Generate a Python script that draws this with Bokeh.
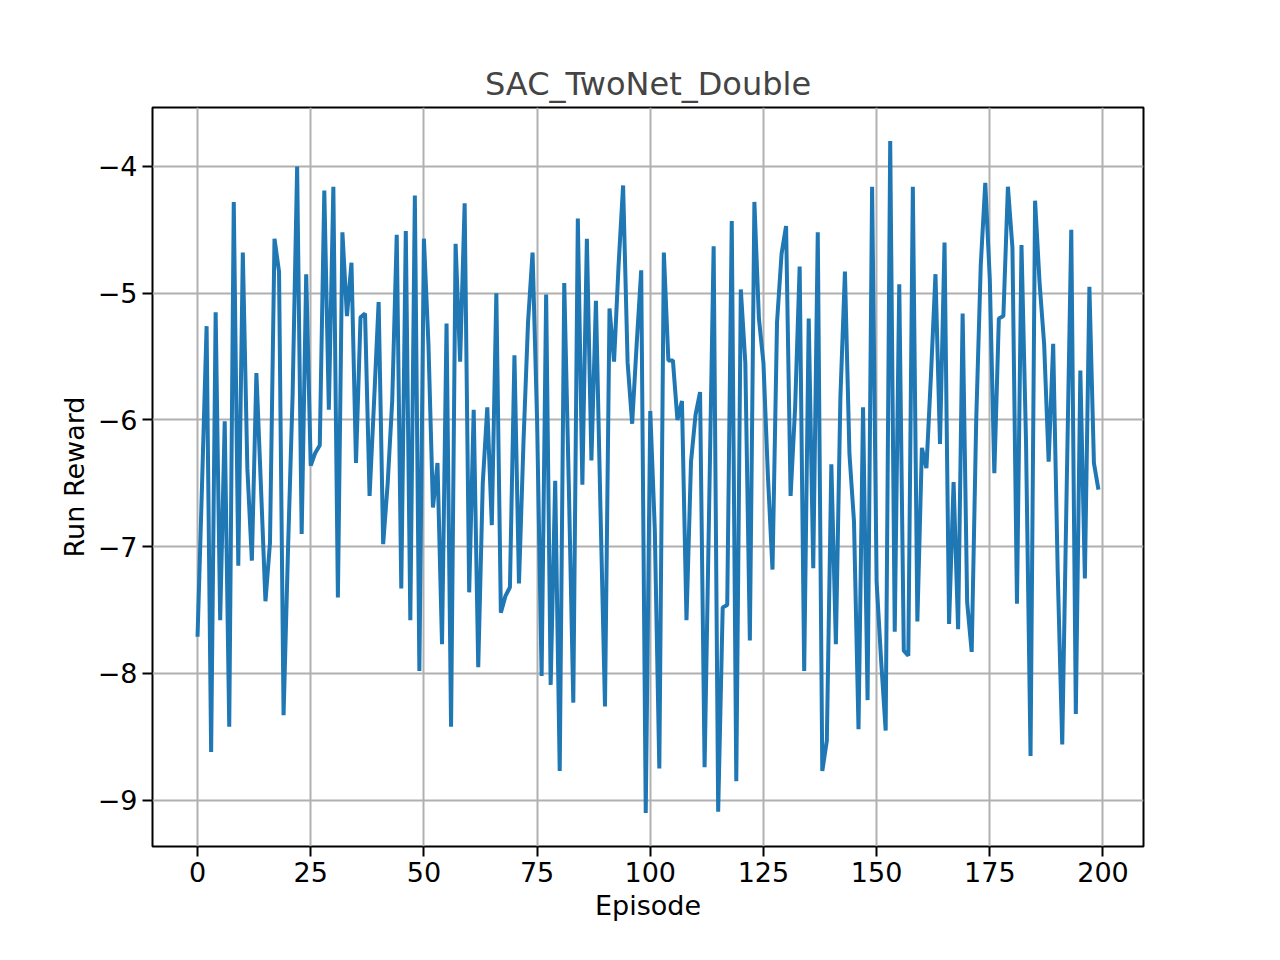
from bokeh.plotting import figure
from bokeh.models import Range1d, FixedTicker
from bokeh.embed import file_html
from bokeh.resources import INLINE

episodes = list(range(200))
rewards = [
    -7.71, -6.5, -5.26, -8.62, -5.15, -7.58, -6.01, -8.42, -4.28, -7.15,
    -4.68, -6.38, -7.11, -5.63, -6.52, -7.43, -6.97, -4.57, -4.83, -8.33,
    -7.0, -5.8, -4.0, -6.9, -4.85, -6.36, -6.26, -6.2, -4.19, -5.92,
    -4.16, -7.4, -4.52, -5.18, -4.76, -6.34, -5.19, -5.16, -6.6, -5.85,
    -5.07, -6.98, -6.5, -5.85, -4.54, -7.33, -4.51, -7.58, -4.23, -7.98,
    -4.57, -5.4, -6.69, -6.34, -7.77, -5.24, -8.42, -4.61, -5.54, -4.29,
    -7.36, -5.92, -7.95, -6.5, -5.9, -6.83, -5.0, -7.52, -7.39, -7.32,
    -5.49, -7.29, -6.17, -5.23, -4.68, -6.0, -8.02, -5.01, -8.09, -6.48,
    -8.77, -4.92, -6.5, -8.23, -4.41, -6.51, -4.57, -6.32, -5.06, -6.7,
    -8.26, -5.12, -5.54, -4.78, -4.15, -5.55, -6.03, -5.4, -4.82, -9.1,
    -5.93, -6.86, -8.75, -4.68, -5.53, -5.53, -6.0, -5.85, -7.58, -6.33,
    -5.96, -5.78, -8.74, -6.7, -4.63, -9.09, -7.48, -7.46, -4.43, -8.85,
    -4.97, -5.55, -7.74, -4.28, -5.2, -5.55, -6.45, -7.18, -5.23, -4.69,
    -4.47, -6.6, -5.9, -4.79, -7.98, -5.2, -7.17, -4.52, -8.77, -8.53,
    -6.35, -7.77, -5.82, -4.83, -6.27, -6.8, -8.44, -5.9, -8.21, -4.16,
    -7.28, -7.9, -8.45, -3.8, -7.67, -4.93, -7.82, -7.86, -4.16, -7.59,
    -6.22, -6.38, -5.65, -4.85, -6.19, -4.6, -7.61, -6.49, -7.65, -5.16,
    -7.44, -7.83, -6.0, -4.78, -4.13, -4.89, -6.42, -5.2, -5.18, -4.16,
    -4.64, -7.45, -4.62, -6.17, -8.65, -4.27, -4.92, -5.4, -6.33, -5.4,
    -7.2, -8.56, -6.5, -4.5, -8.32, -5.61, -7.25, -4.95, -6.34, -6.55,
]
x_ticks = [0, 25, 50, 75, 100, 125, 150, 175, 200]
y_ticks = [-9, -8, -7, -6, -5, -4]

font = "DejaVu Sans"

p = figure(width=1264, height=944, output_backend="svg", toolbar_location=None,
           x_range=Range1d(-9.95, 208.95), y_range=Range1d(-9.365, -3.535),
           title="SAC_TwoNet_Double", x_axis_label="Episode", y_axis_label="Run Reward",
           min_border_left=152, min_border_right=121, min_border_top=107, min_border_bottom=98)

p.line(episodes, rewards, line_color="#1f77b4", line_width=4)

p.title.align = "center"
p.title.text_font = font
p.title.text_font_size = "32px"
p.title.text_font_style = "normal"
p.title.offset = 0

p.outline_line_color = "black"
p.outline_line_width = 2
p.grid.grid_line_color = "#b0b0b0"
p.grid.grid_line_width = 2

p.xaxis.ticker = FixedTicker(ticks=x_ticks)
p.yaxis.ticker = FixedTicker(ticks=y_ticks)
p.yaxis.major_label_overrides = {t: "\u2212" + str(-t) for t in y_ticks}

for ax in (p.xaxis, p.yaxis):
    ax.axis_line_color = None
    ax.minor_tick_line_color = None
    ax.major_tick_in = 0
    ax.major_tick_out = 10
    ax.major_tick_line_width = 2
    ax.major_label_text_font = font
    ax.major_label_text_font_size = "27px"
    ax.major_label_text_color = "black"
    ax.axis_label_text_font = font
    ax.axis_label_text_font_size = "27px"
    ax.axis_label_text_font_style = "normal"
    ax.axis_label_text_color = "black"
p.yaxis.major_label_orientation = "horizontal"

open("out.html", "w").write(file_html(p, INLINE))
